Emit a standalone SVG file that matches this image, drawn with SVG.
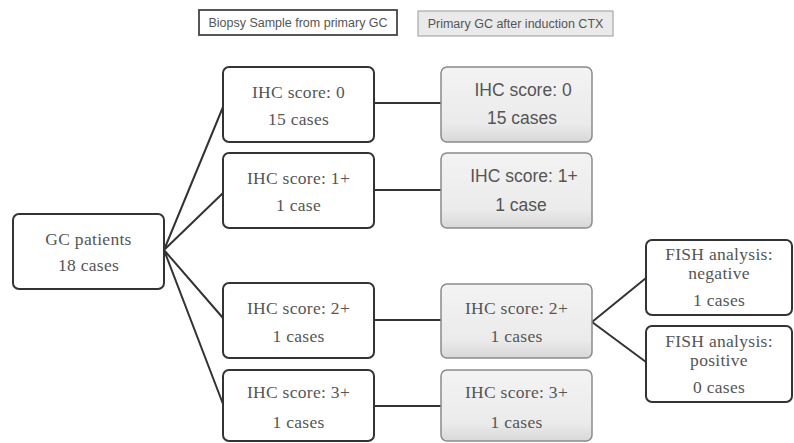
<svg xmlns="http://www.w3.org/2000/svg" width="794" height="443" viewBox="0 0 794 443">
<defs>
<linearGradient id="g" x1="0" y1="0" x2="0" y2="1">
<stop offset="0" stop-color="#f3f3f3"/>
<stop offset="0.75" stop-color="#ebebeb"/>
<stop offset="1" stop-color="#d8d8d8"/>
</linearGradient>
<style>
.w{fill:#fff;stroke:#333;stroke-width:2}
.s{fill:url(#g);stroke:#8a8a8a;stroke-width:1.5}
.t{font-family:"Liberation Serif",serif;font-size:17.5px;fill:#555;text-anchor:middle;letter-spacing:0.3px}
.h{font-family:"Liberation Sans",sans-serif;font-size:17.5px;fill:#555;text-anchor:middle}
.l{font-family:"Liberation Sans",sans-serif;font-size:12.5px;fill:#555;text-anchor:middle}
.c{fill:none;stroke:#333;stroke-width:2}
</style>
</defs>
<rect width="794" height="443" fill="#fff"/>
<g id="legend">
<rect x="199" y="10" width="198" height="25" fill="#fff" stroke="#444" stroke-width="1.8"/>
<text class="l" x="298" y="27">Biopsy Sample from primary GC</text>
<rect x="418" y="11" width="195" height="25" fill="#eaeaea" stroke="#999" stroke-width="1"/>
<text class="l" x="515.5" y="28">Primary GC after induction CTX</text>
</g>
<g id="connectors">
<path class="c" d="M164 250 L223 107 M164 250 L223 193 M164 250 L223 318 M164 250 L223 404"/>
<path class="c" d="M374 103 H441 M374 190 H441 M374 320 H441 M374 406 H441"/>
<path class="c" d="M592 322 L646 278 M592 322 L646 362"/>
</g>
<g id="gc">
<rect class="w" x="13" y="214" width="151" height="75" rx="6"/>
<text class="t" x="88.5" y="245">GC patients</text>
<text class="t" x="88.5" y="271">18 cases</text>
</g>
<g id="ihc0">
<rect class="w" x="223" y="67" width="151" height="75" rx="6"/>
<text class="t" x="298.5" y="98">IHC  score: 0</text>
<text class="t" x="298.5" y="125">15 cases</text>
</g>
<g id="ihc1">
<rect class="w" x="223" y="153" width="151" height="75" rx="6"/>
<text class="t" x="298.5" y="184">IHC score: 1+</text>
<text class="t" x="298.5" y="211">1 case</text>
</g>
<g id="ihc2">
<rect class="w" x="223" y="283" width="151" height="75" rx="6"/>
<text class="t" x="298.5" y="314">IHC score: 2+</text>
<text class="t" x="298.5" y="342">1 cases</text>
</g>
<g id="ihc3">
<rect class="w" x="223" y="370" width="151" height="71" rx="6"/>
<text class="t" x="298.5" y="398">IHC score: 3+</text>
<text class="t" x="298.5" y="428">1 cases</text>
</g>
<g id="ctx0">
<rect class="s" x="441" y="67" width="151" height="75" rx="6"/>
<text class="h" x="523" y="96">IHC score: 0</text>
<text class="h" x="522" y="124">15 cases</text>
</g>
<g id="ctx1">
<rect class="s" x="441" y="153" width="151" height="75" rx="6"/>
<text class="h" x="524" y="182">IHC score: 1+</text>
<text class="h" x="521" y="211">1 case</text>
</g>
<g id="ctx2">
<rect class="s" x="441" y="284" width="151" height="74" rx="6"/>
<text class="t" x="516.5" y="314">IHC score: 2+</text>
<text class="t" x="516.5" y="342">1 cases</text>
</g>
<g id="ctx3">
<rect class="s" x="441" y="370" width="151" height="71" rx="6"/>
<text class="t" x="516.5" y="398">IHC score: 3+</text>
<text class="t" x="516.5" y="428">1 cases</text>
</g>
<g id="fishneg">
<rect class="w" x="646" y="240" width="146" height="75" rx="6"/>
<text class="t" x="719" y="260">FISH analysis:</text>
<text class="t" x="719" y="279">negative</text>
<text class="t" x="719" y="306">1 cases</text>
</g>
<g id="fishpos">
<rect class="w" x="646" y="326" width="146" height="76" rx="6"/>
<text class="t" x="719" y="347">FISH analysis:</text>
<text class="t" x="719" y="366">positive</text>
<text class="t" x="719" y="393">0 cases</text>
</g>
</svg>
